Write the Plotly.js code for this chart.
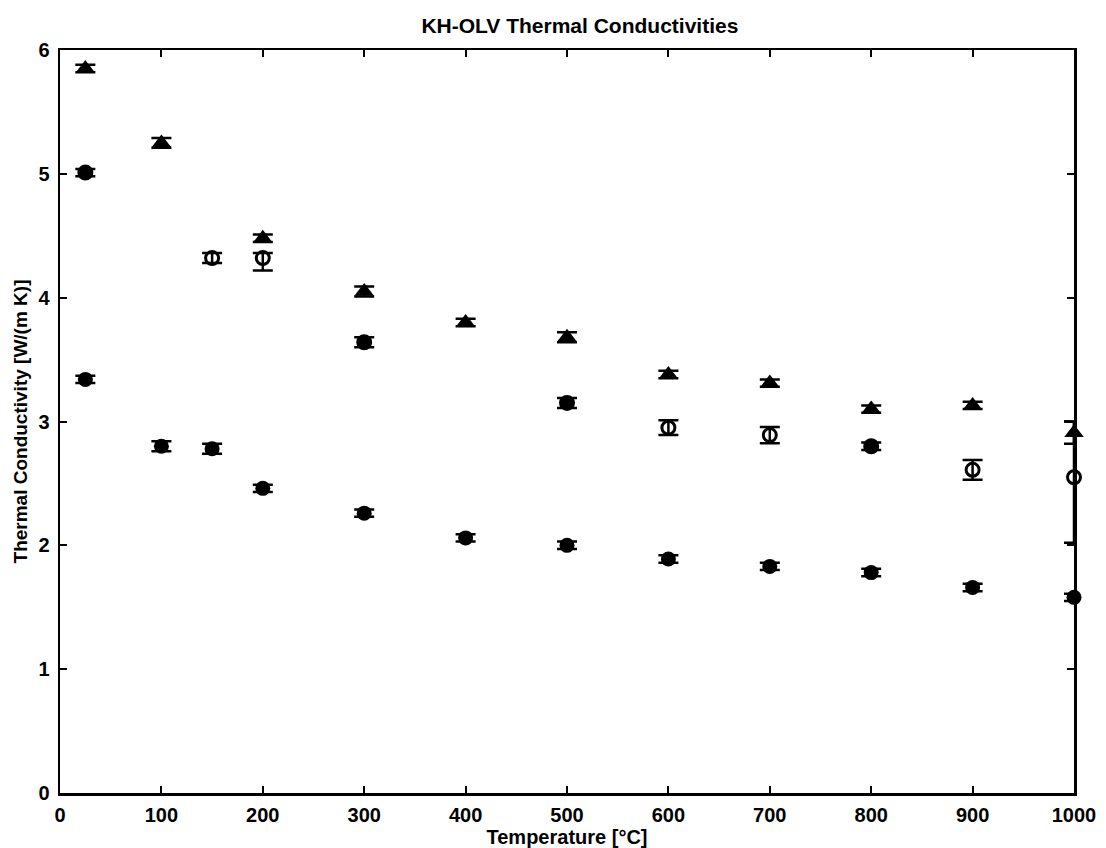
<!DOCTYPE html>
<html>
<head>
<meta charset="utf-8">
<script src="https://cdn.plot.ly/plotly-3.0.1.min.js"></script>
<style>html,body{margin:0;padding:0;background:#fff;}#chart{width:1106px;height:848px;}</style>
</head>
<body>
<div id="chart"></div>
<script>
// Temperatures [°C]
const topX = [25, 100, 200, 300, 400, 500, 600, 700, 800, 900, 1000];
const topY = [5.85, 5.25, 4.48, 4.05, 3.80, 3.68, 3.38, 3.31, 3.10, 3.13, 2.91];
const topErr = [0.03, 0.04, 0.03, 0.04, 0.03, 0.04, 0.03, 0.03, 0.03, 0.03, 0.09];

const midX = [25, 150, 200, 300, 500, 600, 700, 800, 900, 1000];
const midY = [5.01, 4.32, 4.32, 3.64, 3.15, 2.95, 2.89, 2.80, 2.61, 2.55];
const midErrPlus = [0.03, 0.04, 0.04, 0.04, 0.04, 0.06, 0.065, 0.03, 0.08, 0.45];
const midErrMinus = [0.03, 0.04, 0.10, 0.04, 0.04, 0.06, 0.065, 0.03, 0.08, 0.53];

const lowX = [25, 100, 150, 200, 300, 400, 500, 600, 700, 800, 900, 1000];
const lowY = [3.34, 2.80, 2.78, 2.46, 2.26, 2.06, 2.00, 1.89, 1.83, 1.78, 1.66, 1.58];
const lowErr = [0.03, 0.04, 0.04, 0.03, 0.03, 0.03, 0.03, 0.03, 0.03, 0.03, 0.03, 0.03];

const xTicks = [0, 100, 200, 300, 400, 500, 600, 700, 800, 900, 1000];
const yTicks = [0, 1, 2, 3, 4, 5, 6];

// marker appearance of the middle series as it looks in the scan (style only)
const midSymbols = ['circle', 'circle-open', 'circle-open', 'circle', 'circle',
                    'circle-open', 'circle-open', 'circle', 'circle-open', 'circle-open'];

const FONT = '"Liberation Sans", Arial, Helvetica, sans-serif';
const errStyle = {type: 'data', visible: true, color: '#000', thickness: 2.5, width: 10};

const traces = [
  {
    x: topX, y: topY, type: 'scatter', mode: 'markers', cliponaxis: false,
    marker: {symbol: 'triangle-up', size: 17, color: '#000'},
    error_y: Object.assign({array: topErr}, errStyle),
    showlegend: false
  },
  {
    x: midX, y: midY, type: 'scatter', mode: 'markers', cliponaxis: false,
    marker: {symbol: midSymbols, size: 13, color: '#000', line: {width: 3, color: '#000'}},
    error_y: Object.assign({array: midErrPlus, arrayminus: midErrMinus, symmetric: false}, errStyle),
    showlegend: false
  },
  {
    x: lowX, y: lowY, type: 'scatter', mode: 'markers', cliponaxis: false,
    marker: {symbol: 'circle', size: 15, color: '#000'},
    error_y: Object.assign({array: lowErr}, errStyle),
    showlegend: false
  }
];

const axisCommon = {
  showgrid: false, zeroline: false, showline: true, linecolor: '#000', linewidth: 2.5,
  mirror: 'ticks', ticks: 'inside', ticklen: 7, tickwidth: 2, tickcolor: '#000',
  tickfont: {family: FONT, size: 20, color: '#000', weight: 'bold'},
  automargin: false
};

const layout = {
  width: 1106, height: 848,
  margin: {l: 60, r: 32, t: 50, b: 55},
  paper_bgcolor: '#fff', plot_bgcolor: '#fff',
  font: {family: FONT, color: '#000'},
  title: {
    text: 'KH-OLV Thermal Conductivities',
    font: {family: FONT, size: 21, color: '#000', weight: 'bold'},
    x: 0.5127, xanchor: 'center', xref: 'paper',
    y: 0.970, yanchor: 'middle', yref: 'container'
  },
  xaxis: Object.assign({}, axisCommon, {
    range: [0, 1000], tickvals: xTicks, ticktext: xTicks.map(String),
    ticklabelstandoff: 2,
    title: {text: 'Temperature [°C]', standoff: 4,
            font: {family: FONT, size: 20, color: '#000', weight: 'bold'}}
  }),
  yaxis: Object.assign({}, axisCommon, {
    range: [0, 6], tickvals: yTicks, ticktext: yTicks.map(String),
    ticklabelstandoff: 4,
    title: {text: 'Thermal Conductivity [W/(m K)]', standoff: 6,
            font: {family: FONT, size: 19, color: '#000', weight: 'bold'}}
  })
};

Plotly.newPlot('chart', traces, layout, {displayModeBar: false, staticPlot: true});
</script>
</body>
</html>
